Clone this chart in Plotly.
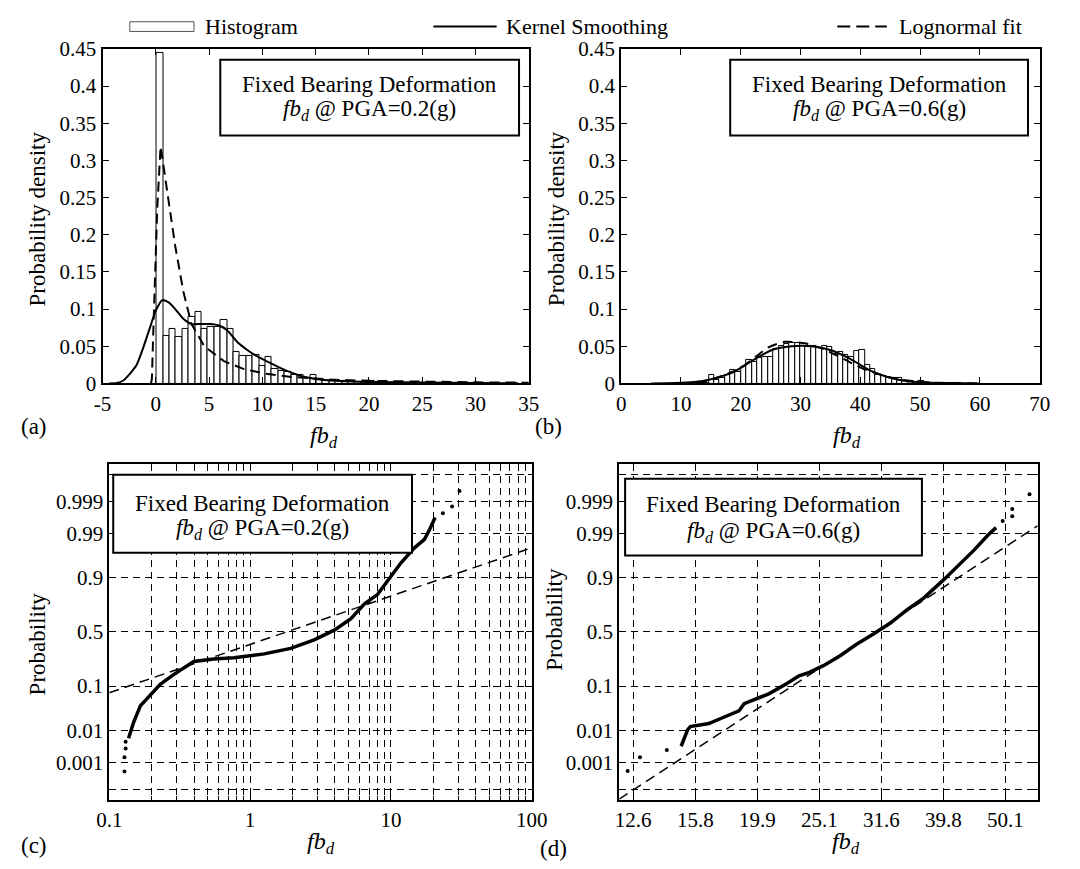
import plotly.graph_objects as go
from statistics import NormalDist

FONT = "Liberation Serif, Times New Roman, serif"
W, H = 1080, 869

# ---------------- (a) PGA = 0.2 g : density ----------------
a_bin_start = 0.09
a_bin_width = 0.6
a_hist = [0.445, 0.064, 0.073, 0.062, 0.073, 0.089, 0.096, 0.073, 0.076, 0.076,
          0.085, 0.073, 0.042, 0.037, 0.037, 0.039, 0.024, 0.035, 0.020, 0.017,
          0.016, 0.011, 0.012, 0.007, 0.011, 0.005, 0.004, 0.005, 0.003, 0.004,
          0.003, 0.002, 0.002, 0.003, 0.002, 0.001, 0.001, 0.002, 0.001, 0.001,
          0.001, 0.0005, 0.001, 0.0005, 0.0, 0.001, 0.0, 0.0005, 0.0, 0.0, 0.0005]
a_kernel_x = [-4.4, -3.66, -3.05, -2.44, -1.83, -1.23, -0.62, 0.0, 0.6, 1.21, 1.82,
              2.58, 3.34, 4.26, 5.17, 5.93, 6.69, 7.60, 8.52, 9.43, 10.34, 11.56,
              12.78, 13.99, 15.21, 16.43, 17.95, 20, 25, 30, 34]
a_kernel_y = [0, 0.0005, 0.004, 0.013, 0.024, 0.046, 0.072, 0.098, 0.112, 0.109, 0.100,
              0.087, 0.080, 0.080, 0.080, 0.078, 0.0717, 0.0565, 0.0457, 0.037, 0.0304,
              0.0217, 0.0143, 0.0087, 0.0057, 0.0039, 0.003, 0.002, 0.0012, 0.0006, 0.0003]
a_logn_x = [-0.45, -0.37, -0.25, -0.07, 0.14, 0.45, 0.75, 1.21, 1.82, 2.58, 3.34,
            4.56, 6.39, 8.21, 10.34, 12.78, 16.4, 20, 25, 30, 35]
a_logn_y = [0, 0.0065, 0.063, 0.15, 0.237, 0.319, 0.289, 0.241, 0.185, 0.124, 0.080,
            0.050, 0.030, 0.0196, 0.013, 0.0087, 0.0052, 0.0035, 0.0022, 0.0015, 0.001]
a_xticks = [-5, 0, 5, 10, 15, 20, 25, 30, 35]
a_xlabels = ["-5", "0", "5", "10", "15", "20", "25", "30", "35"]

# ---------------- (b) PGA = 0.6 g : density ----------------
b_bin_start = 11.95
b_bin_width = 0.9
b_hist = [0.001, 0.002, 0.001, 0.011, 0.005, 0.007, 0.011, 0.018, 0.016, 0.022,
          0.031, 0.029, 0.034, 0.035, 0.036, 0.047, 0.051, 0.053, 0.054, 0.055,
          0.051, 0.051, 0.051, 0.048, 0.050, 0.049, 0.040, 0.042, 0.039, 0.036,
          0.044, 0.045, 0.025, 0.019, 0.011, 0.010, 0.008, 0.007, 0.008, 0.004,
          0.004, 0.002, 0.003, 0.001, 0.001, 0.0, 0.001, 0.0, 0.0, 0.001]
b_kernel_x = [5, 9, 12.2, 14.7, 18.7, 22.0, 25.2, 28.5, 31.8, 35.0, 38.3, 41.5,
              44.8, 48.0, 51.7, 55, 60]
b_kernel_y = [0, 0.0005, 0.002, 0.005, 0.015, 0.031, 0.045, 0.050, 0.050, 0.045,
              0.033, 0.018, 0.008, 0.003, 0.001, 0.0005, 0]
b_logn_x = [10, 13, 15, 17.5, 19.8, 22.5, 24.7, 27.4, 30.7, 33.9, 37.2, 40.4,
            43.7, 46.9, 50.2, 55, 60]
b_logn_y = [0, 0.001, 0.005, 0.012, 0.020, 0.036, 0.049, 0.056, 0.054, 0.046,
            0.033, 0.020, 0.011, 0.005, 0.002, 0.0005, 0]

# ---------------- (c) PGA = 0.2 g : lognormal probability plot ----------------
c_emp_x = [0.137, 0.1487, 0.166, 0.195, 0.230, 0.286, 0.398, 0.552, 0.767, 1.26,
           1.94, 2.85, 3.96, 5.2, 6.47, 8.05, 10.0, 11.8, 14.7, 17.3, 18.8, 20.6]
c_emp_p = [0.0059, 0.0162, 0.040, 0.069, 0.1075, 0.156, 0.242, 0.261, 0.271, 0.3015,
           0.348, 0.425, 0.516, 0.622, 0.745, 0.813, 0.907, 0.949, 0.9767, 0.9857,
           0.9922, 0.9966]
c_tail_x = [0.128, 0.128, 0.1305, 0.1305, 23.4, 27.2, 30.7]
c_tail_p = [0.00048, 0.0015, 0.0029, 0.0047, 0.9975, 0.9985, 0.99957]
c_fit_x = [0.1, 100]
c_fit_p = [0.075, 0.9767]

# ---------------- (d) PGA = 0.6 g : lognormal probability plot ----------------
d_emp_x = [15.04, 15.4, 15.56, 16.26, 16.67, 17.42, 18.2, 18.64, 19.0, 19.86, 20.86,
           22.2, 23.3, 24.2, 25.5, 27.1, 28.8, 30.7, 32.7, 34.8, 37.0, 39.9, 41.9,
           44.6, 46.9, 48.4]
d_emp_p = [0.0034, 0.0102, 0.0125, 0.0136, 0.015, 0.0202, 0.0268, 0.0307, 0.0446,
           0.057, 0.072, 0.109, 0.149, 0.169, 0.212, 0.284, 0.382, 0.48, 0.583, 0.70,
           0.788, 0.893, 0.9394, 0.9735, 0.9887, 0.9932]
d_tail_x = [12.33, 12.91, 14.26, 49.6, 51.4, 51.4, 54.8]
d_tail_p = [0.0005, 0.0015, 0.0026, 0.9957, 0.9969, 0.9982, 0.99944]
d_fit_x = [11.95, 56.5]
d_fit_p = [0.0000375, 0.994]

# probability-axis ticks
prob_ticks = [0.001, 0.01, 0.1, 0.5, 0.9, 0.99, 0.999]
prob_labels = ["0.001", "0.01", "0.1", "0.5", "0.9", "0.99", "0.999"]
prob_extra = [0.0001, 0.9999]
d_tick_exp = [1.1, 1.2, 1.3, 1.4, 1.5, 1.6, 1.7]
d_tick_labels = ["12.6", "15.8", "19.9", "25.1", "31.6", "39.8", "50.1"]

probit = NormalDist().inv_cdf


def z(ps):
    return [probit(p) for p in ps]


def px(x):
    return x / W


def py(y):
    return 1 - y / H


def centers(start, width, n):
    return [start + (i + 0.5) * width for i in range(n)]


DASH_CURVE = "10px,6px"
DASH_GRID = "7px,5px"

fig = go.Figure()

# (a)
fig.add_trace(go.Bar(x=centers(a_bin_start, a_bin_width, len(a_hist)), y=a_hist,
                     width=a_bin_width, marker=dict(color="white", line=dict(color="black", width=1)),
                     xaxis="x", yaxis="y", showlegend=False))
fig.add_trace(go.Scatter(x=a_kernel_x, y=a_kernel_y, mode="lines",
                         line=dict(color="black", width=2, shape="spline", smoothing=0.6),
                         xaxis="x", yaxis="y", showlegend=False))
fig.add_trace(go.Scatter(x=a_logn_x, y=a_logn_y, mode="lines",
                         line=dict(color="black", width=2, dash=DASH_CURVE),
                         xaxis="x", yaxis="y", showlegend=False))
# (b)
fig.add_trace(go.Bar(x=centers(b_bin_start, b_bin_width, len(b_hist)), y=b_hist,
                     width=b_bin_width, marker=dict(color="white", line=dict(color="black", width=1)),
                     xaxis="x2", yaxis="y2", showlegend=False))
fig.add_trace(go.Scatter(x=b_kernel_x, y=b_kernel_y, mode="lines",
                         line=dict(color="black", width=2, shape="spline", smoothing=0.6),
                         xaxis="x2", yaxis="y2", showlegend=False))
fig.add_trace(go.Scatter(x=b_logn_x, y=b_logn_y, mode="lines",
                         line=dict(color="black", width=2, dash=DASH_CURVE, shape="spline", smoothing=0.6),
                         xaxis="x2", yaxis="y2", showlegend=False))
# (c)
fig.add_trace(go.Scatter(x=c_fit_x, y=z(c_fit_p), mode="lines",
                         line=dict(color="black", width=1.5, dash=DASH_CURVE),
                         xaxis="x3", yaxis="y3", showlegend=False))
fig.add_trace(go.Scatter(x=c_emp_x, y=z(c_emp_p), mode="lines", line=dict(color="black", width=3.5),
                         xaxis="x3", yaxis="y3", showlegend=False))
fig.add_trace(go.Scatter(x=c_tail_x, y=z(c_tail_p), mode="markers", marker=dict(color="black", size=4),
                         xaxis="x3", yaxis="y3", showlegend=False))
# (d)
fig.add_trace(go.Scatter(x=d_fit_x, y=z(d_fit_p), mode="lines",
                         line=dict(color="black", width=1.5, dash=DASH_CURVE),
                         xaxis="x4", yaxis="y4", showlegend=False))
fig.add_trace(go.Scatter(x=d_emp_x, y=z(d_emp_p), mode="lines", line=dict(color="black", width=3.5),
                         xaxis="x4", yaxis="y4", showlegend=False))
fig.add_trace(go.Scatter(x=d_tail_x, y=z(d_tail_p), mode="markers", marker=dict(color="black", size=4),
                         xaxis="x4", yaxis="y4", showlegend=False))

tickfont = dict(family=FONT, size=21, color="black")
base = dict(showline=True, linecolor="black", linewidth=2, mirror="allticks", ticks="inside",
            ticklen=6, tickwidth=1, tickcolor="black", tickfont=tickfont, zeroline=False,
            showgrid=False, fixedrange=True)
grid = dict(showgrid=True, gridcolor="black", gridwidth=1, griddash=DASH_GRID)
minor_grid = dict(showgrid=True, gridcolor="black", gridwidth=1, griddash=DASH_GRID,
                  ticks="inside", ticklen=4, tickcolor="black")

top_dom = [py(382), py(38)]
bot_dom = [py(810), py(465)]
zr = [-3.97, 3.97]

minor_c = [m * 10 ** e for e in (-1, 0, 1) for m in range(2, 10)]

fig.update_layout(
    width=W, height=H, margin=dict(l=0, r=0, t=0, b=0),
    paper_bgcolor="white", plot_bgcolor="white", bargap=0,
    font=dict(family=FONT, color="black"),
    xaxis=dict(base, domain=[px(92), px(530)], range=[-5, 35], tickvals=a_xticks,
               ticktext=a_xlabels, anchor="y"),
    yaxis=dict(base, domain=top_dom, range=[0, 0.45], tick0=0, dtick=0.05, anchor="x"),
    xaxis2=dict(base, domain=[px(625), px(1055)], range=[0, 70], tick0=0, dtick=10, anchor="y2"),
    yaxis2=dict(base, domain=top_dom, range=[0, 0.45], tick0=0, dtick=0.05, anchor="x2"),
    xaxis3=dict(base, **grid, type="log", domain=[px(99), px(533)], range=[-1, 2],
                tickvals=[0.1, 1, 10, 100], ticktext=["0.1", "1", "10", "100"], anchor="y3",
                minor=dict(minor_grid, tickvals=minor_c)),
    yaxis3=dict(base, **grid, domain=bot_dom, range=zr, tickvals=z(prob_ticks), ticktext=prob_labels,
                anchor="x3", minor=dict(minor_grid, tickvals=z(prob_extra))),
    xaxis4=dict(base, **grid, type="log", domain=[px(623), px(1053)], range=[1.0775, 1.752],
                tickvals=[10 ** e for e in d_tick_exp], ticktext=d_tick_labels, anchor="y4"),
    yaxis4=dict(base, **grid, domain=bot_dom, range=zr, tickvals=z(prob_ticks), ticktext=prob_labels,
                anchor="x4", minor=dict(minor_grid, tickvals=z(prob_extra))),
)

shapes = []
annotations = []


def text(x, y, s, size=23, xanchor="center", angle=0):
    annotations.append(dict(x=px(x), y=py(y), xref="paper", yref="paper", text=s, showarrow=False,
                            xanchor=xanchor, yanchor="middle", textangle=angle,
                            font=dict(family=FONT, size=size, color="black")))


# legend row
LEG_Y = 15
shapes.append(dict(type="rect", xref="paper", yref="paper", x0=px(120), x1=px(186),
                   y0=py(LEG_Y + 5), y1=py(LEG_Y - 5), line=dict(color="#555", width=1), fillcolor="white"))
shapes.append(dict(type="line", xref="paper", yref="paper", x0=px(432), x1=px(497),
                   y0=py(LEG_Y), y1=py(LEG_Y), line=dict(color="black", width=2)))
shapes.append(dict(type="line", xref="paper", yref="paper", x0=px(847), x1=px(898),
                   y0=py(LEG_Y), y1=py(LEG_Y), line=dict(color="black", width=2, dash="13px,6px")))
text(195, LEG_Y, "Histogram", size=22, xanchor="left")
text(505, LEG_Y, "Kernel Smoothing", size=22, xanchor="left")
text(908, LEG_Y, "Lognormal fit", size=22, xanchor="left")

FB = "<i>fb</i><sub><i>d</i></sub>"

# title boxes
boxes = [
    (213, 520, 49, 127, 75, 101, "0.2"),
    (737, 1043, 49, 127, 75, 101, "0.6"),
    (103, 410, 476, 556, 505, 532, "0.2"),
    (629, 934, 480, 559, 507, 535, "0.6"),
]
for x0, x1, y0, y1, t1, t2, pga in boxes:
    shapes.append(dict(type="rect", xref="paper", yref="paper", x0=px(x0), x1=px(x1), y0=py(y1), y1=py(y0),
                       line=dict(color="black", width=2), fillcolor="white", layer="above"))
    cx = (x0 + x1) / 2
    text(cx, t1, "Fixed Bearing Deformation")
    text(cx, t2, FB + " @ PGA=" + pga + "(g)")

# axis titles
text(320, 437, FB, size=24)
text(857, 437, FB, size=24)
text(317, 855, FB, size=24)
text(856, 855, FB, size=24)
text(25, 213, "Probability density", angle=-90)
text(558, 213, "Probability density", angle=-90)
text(25, 650, "Probability", angle=-90)
text(557, 625, "Probability", angle=-90)

# panel letters
text(22, 426, "(a)")
text(550, 426, "(b)")
text(22, 857, "(c)")
text(555, 860, "(d)")

fig.update_layout(shapes=shapes, annotations=annotations)
fig.write_html("out.html")
